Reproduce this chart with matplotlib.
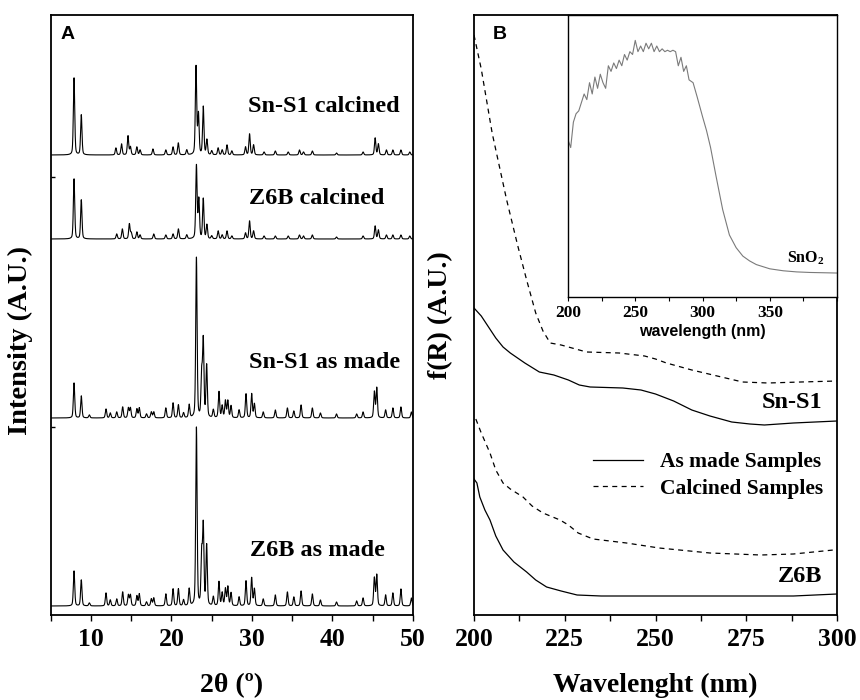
import numpy as np
import matplotlib
matplotlib.use("Agg")
import matplotlib.pyplot as plt
from matplotlib.ticker import MultipleLocator

plt.rcParams["font.family"] = ["Liberation Serif", "DejaVu Serif"]
plt.rcParams["font.weight"] = "bold"
plt.rcParams["mathtext.fontset"] = "custom"
plt.rcParams["mathtext.bf"] = "Liberation Serif:bold"
plt.rcParams["mathtext.rm"] = "Liberation Serif:bold"

# ---- panel A: XRD peak lists (2theta, height) and baselines ----
sn_calc_pos = [7.9, 8.8, 13.1, 13.8, 14.6, 14.9, 15.7, 16.1, 17.7, 19.3, 20.2, 20.85, 21.9,
               23.05, 23.35, 23.95, 24.4, 25.0, 25.8, 26.3, 26.9, 27.5, 29.2, 29.7, 30.2,
               31.5, 32.9, 34.5, 35.9, 36.4, 37.5, 40.5, 43.8, 45.3, 45.7, 46.7, 47.5, 48.5, 49.6]
sn_calc_h = [77, 40, 7, 11, 19, 8, 8, 5, 6, 5, 8, 12, 5,
             88, 40, 48, 15, 4, 7, 5, 10, 4, 8, 21, 10,
             3, 4, 3, 5, 3, 4, 2, 3, 17, 11, 5, 5, 5, 3]

z6b_calc_pos = [7.9, 8.8, 13.2, 13.9, 14.77, 15.0, 15.7, 16.1, 17.8, 19.3, 20.2, 20.86, 21.9,
                23.1, 23.4, 23.95, 24.4, 25.0, 25.8, 26.3, 26.9, 27.5, 29.2, 29.7, 30.2,
                31.5, 32.9, 34.5, 35.9, 36.4, 37.5, 40.5, 43.8, 45.3, 45.7, 46.7, 47.5, 48.5, 49.6]
z6b_calc_h = [60, 39, 5, 10, 15, 6, 7, 4, 5, 4, 5, 10, 4,
              73, 39, 40, 14, 3, 8, 4, 8, 3, 6, 18, 8,
              3, 3, 3, 4, 3, 4, 2, 3, 13, 9, 4, 4, 4, 3]

made_pos = [7.9, 8.8, 9.8, 11.87, 12.4, 13.2, 13.94, 14.65, 14.9, 15.7, 16.0, 16.9, 17.5, 17.8,
            19.3, 20.2, 20.86, 21.5, 22.2, 23.1, 23.75, 23.95, 24.37, 25.2, 25.9, 26.3, 26.7,
            27.0, 27.4, 28.4, 29.26, 29.96, 30.3, 31.4, 32.9, 34.4, 35.2, 36.1, 37.5, 38.5,
            40.5, 43.0, 43.8, 45.2, 45.5, 46.6, 47.5, 48.5, 49.8]
sn_made_h = [35, 22, 3, 9, 5, 6, 11, 10, 10, 9, 10, 4, 6, 6,
             10, 15, 13, 5, 13, 160, 42, 76, 52, 8, 26, 12, 17,
             17, 12, 8, 24, 24, 14, 6, 8, 10, 7, 13, 10, 5,
             4, 4, 6, 26, 30, 8, 10, 11, 6]
z6b_made_h = [35, 26, 3, 13, 6, 7, 14, 11, 11, 10, 12, 4, 7, 8,
              12, 17, 17, 6, 17, 178, 50, 78, 60, 9, 24, 13, 17,
              19, 13, 9, 25, 28, 17, 7, 11, 14, 9, 15, 12, 6,
              4, 5, 8, 28, 31, 11, 13, 17, 8]

xrd_base = [460, 376, 197, 9]

# ---- panel B: UV-vis curves ----
sn_calc_wl = [200, 202, 205, 209, 212, 214.5, 217, 219, 221, 224, 228, 231, 240, 247, 250, 253,
              260, 267, 274, 281, 290, 300]
sn_calc_v = [580, 546, 482, 415, 370, 335, 302, 284, 272, 270, 266, 263, 262, 259, 256, 252,
             245, 239, 233, 232, 233, 234]
sn_made_wl = [200, 202, 204, 206, 208, 210, 214, 218, 222, 226, 229, 232, 241, 246, 250, 255,
              260, 265, 271, 276, 280, 288, 300]
sn_made_v = [307, 299, 288, 277, 268, 262, 252, 243, 240, 235, 230, 228, 227, 225, 221, 214,
             205, 199, 193, 191, 190, 192, 194]
z6b_calc_wl = [200.5, 202, 204.4, 206, 208, 210, 213.5, 216, 219, 223.7, 226, 228.7, 232.8,
               242, 251, 265, 279, 288, 299]
z6b_calc_v = [196, 182, 162, 145, 132, 126, 118, 109, 102, 95, 90, 82, 76,
              72, 67, 62, 60, 61, 65]
z6b_made_wl = [200, 200.8, 201.6, 203, 204.4, 206, 208, 211, 214.5, 217, 220, 224, 228.4,
               235, 242, 266, 288, 300]
z6b_made_v = [136, 132, 118, 105, 95, 79, 65, 53, 43, 35, 28, 24, 20,
              19, 19, 19, 19, 21]

# ---- inset: SnO2 ----
sno2_wl = [200, 202, 204, 206, 208, 210, 212, 214, 216, 218, 220, 222, 224, 226, 228, 230,
           232, 234, 236, 238, 240, 242, 244, 246, 248, 250, 252, 254, 256, 258, 260, 262,
           264, 266, 268, 270, 272, 274, 276, 278, 280, 282, 284, 286, 288, 290, 293, 296,
           300, 303, 306, 310, 315, 320, 325, 330, 335, 340, 350, 360, 370, 380, 390, 400]
sno2_v = [0.557, 0.53, 0.62, 0.65, 0.66, 0.69, 0.72, 0.70, 0.76, 0.72, 0.78, 0.74, 0.79, 0.76,
          0.74, 0.82, 0.80, 0.83, 0.81, 0.84, 0.82, 0.86, 0.84, 0.87, 0.86, 0.91, 0.87, 0.89,
          0.87, 0.90, 0.88, 0.90, 0.87, 0.89, 0.87, 0.88, 0.87, 0.875, 0.87, 0.875, 0.87, 0.82,
          0.85, 0.80, 0.82, 0.77, 0.76, 0.71, 0.64, 0.59, 0.53, 0.43, 0.31, 0.22, 0.175, 0.145,
          0.128, 0.115, 0.10, 0.093, 0.089, 0.087, 0.086, 0.085]


def pattern(tt, pos, hts, fwhm=0.2):
    # pseudo-Voigt peaks on the listed positions
    y = np.zeros_like(tt)
    s = fwhm / 2.3548
    g = fwhm / 2
    for p, h in zip(pos, hts):
        y += h * (0.65 * np.exp(-0.5 * ((tt - p) / s) ** 2) + 0.35 * g**2 / ((tt - p) ** 2 + g**2))
    return y


fig = plt.figure(figsize=(8.6, 7), dpi=100)
axA = fig.add_axes([50.7 / 860, 85 / 700, 362.3 / 860, 600 / 700])
axB = fig.add_axes([474 / 860, 85 / 700, 363 / 860, 600 / 700])

tick_fs = 18.5
lab_fs = 20

# panel A
tt = np.arange(5, 50.001, 0.01)
series = [(sn_calc_pos, sn_calc_h), (z6b_calc_pos, z6b_calc_h),
          (made_pos, sn_made_h), (made_pos, z6b_made_h)]
for (pos, hts), base in zip(series, xrd_base):
    axA.plot(tt, base + pattern(tt, pos, hts), color="black", lw=0.8)

axA.text(48.3, 509, "Sn-S1 calcined", ha="right", va="center", fontsize=17.5, fontweight="bold")
axA.text(46.4, 416, "Z6B calcined", ha="right", va="center", fontsize=17.5, fontweight="bold")
axA.text(48.4, 252, "Sn-S1 as made", ha="right", va="center", fontsize=17.5, fontweight="bold")
axA.text(46.5, 65, "Z6B as made", ha="right", va="center", fontsize=17.5, fontweight="bold")
axA.text(0.026, 0.982, "A", transform=axA.transAxes, ha="left", va="top",
         fontsize=14, fontweight="bold", family="Liberation Sans")

axA.set_xlim(5, 50)
axA.set_ylim(0, 600)
axA.xaxis.set_major_locator(MultipleLocator(10))
axA.xaxis.set_minor_locator(MultipleLocator(5))
axA.set_yticks([188, 438])
axA.set_yticklabels([])
axA.tick_params(axis="y", direction="in", length=3, width=1)
axA.set_xlabel("2θ (º)", fontsize=lab_fs, fontweight="bold", labelpad=16)
axA.set_ylabel("Intensity (A.U.)", fontsize=20.5, fontweight="bold")
axA.yaxis.set_label_coords(-0.05, 0.458)

# panel B
dash = (0, (4, 3.5))
axB.plot(sn_calc_wl, sn_calc_v, color="black", lw=0.9, ls=dash)
axB.plot(sn_made_wl, sn_made_v, color="black", lw=0.9, label="As made Samples")
axB.plot(z6b_calc_wl, z6b_calc_v, color="black", lw=0.9, ls=dash, label="Calcined Samples")
axB.plot(z6b_made_wl, z6b_made_v, color="black", lw=0.9)
axB.text(295.9, 213, "Sn-S1", ha="right", va="center", fontsize=17.5, fontweight="bold")
axB.text(295.9, 38, "Z6B", ha="right", va="center", fontsize=17.5, fontweight="bold")
axB.text(0.052, 0.982, "B", transform=axB.transAxes, ha="left", va="top",
         fontsize=14, fontweight="bold", family="Liberation Sans")
axB.legend(loc="upper left", bbox_to_anchor=((593 - 474) / 363, (615 - 452) / 600),
           frameon=False, borderaxespad=0, borderpad=0, handlelength=2.3,
           handletextpad=0.8, labelspacing=0.32, prop={"size": 15.5, "weight": "bold"})

axB.set_xlim(200, 300)
axB.set_ylim(0, 600)
axB.xaxis.set_major_locator(MultipleLocator(25))
axB.xaxis.set_minor_locator(MultipleLocator(12.5))
axB.set_yticks([])
axB.set_xlabel("Wavelenght (nm)", fontsize=lab_fs, fontweight="bold", labelpad=16)
axB.set_ylabel("f(R) (A.U.)", fontsize=lab_fs, fontweight="bold")
axB.yaxis.set_label_coords(-0.058, 0.5)

for ax in (axA, axB):
    ax.tick_params(axis="x", which="both", direction="out", length=4, width=1,
                   labelsize=tick_fs, pad=5)
    for lbl in ax.get_xticklabels():
        lbl.set_fontweight("bold")
    for sp in ax.spines.values():
        sp.set_linewidth(1.3)

# inset
axI = fig.add_axes([568 / 860, 1 - 297 / 700, 269 / 860, 282 / 700])
axI.plot(sno2_wl, sno2_v, color="#7a7a7a", lw=0.8)
axI.text(391, 0.138, r"SnO$_\mathbf{2}$", ha="right", va="center", fontsize=11.5,
         fontweight="bold")
axI.set_xlim(200, 400)
axI.set_ylim(0, 1)
axI.set_yticks([])
axI.set_xticks([200, 250, 300, 350])
axI.xaxis.set_minor_locator(MultipleLocator(25))
axI.tick_params(axis="x", which="both", direction="out", length=3, width=0.8,
                labelsize=12.5, pad=3)
axI.set_xlabel("wavelength (nm)", fontsize=11.5, fontweight="bold",
               family="Liberation Sans", labelpad=2)
for sp in axI.spines.values():
    sp.set_linewidth(1.0)

fig.savefig("out.png", dpi=100)
